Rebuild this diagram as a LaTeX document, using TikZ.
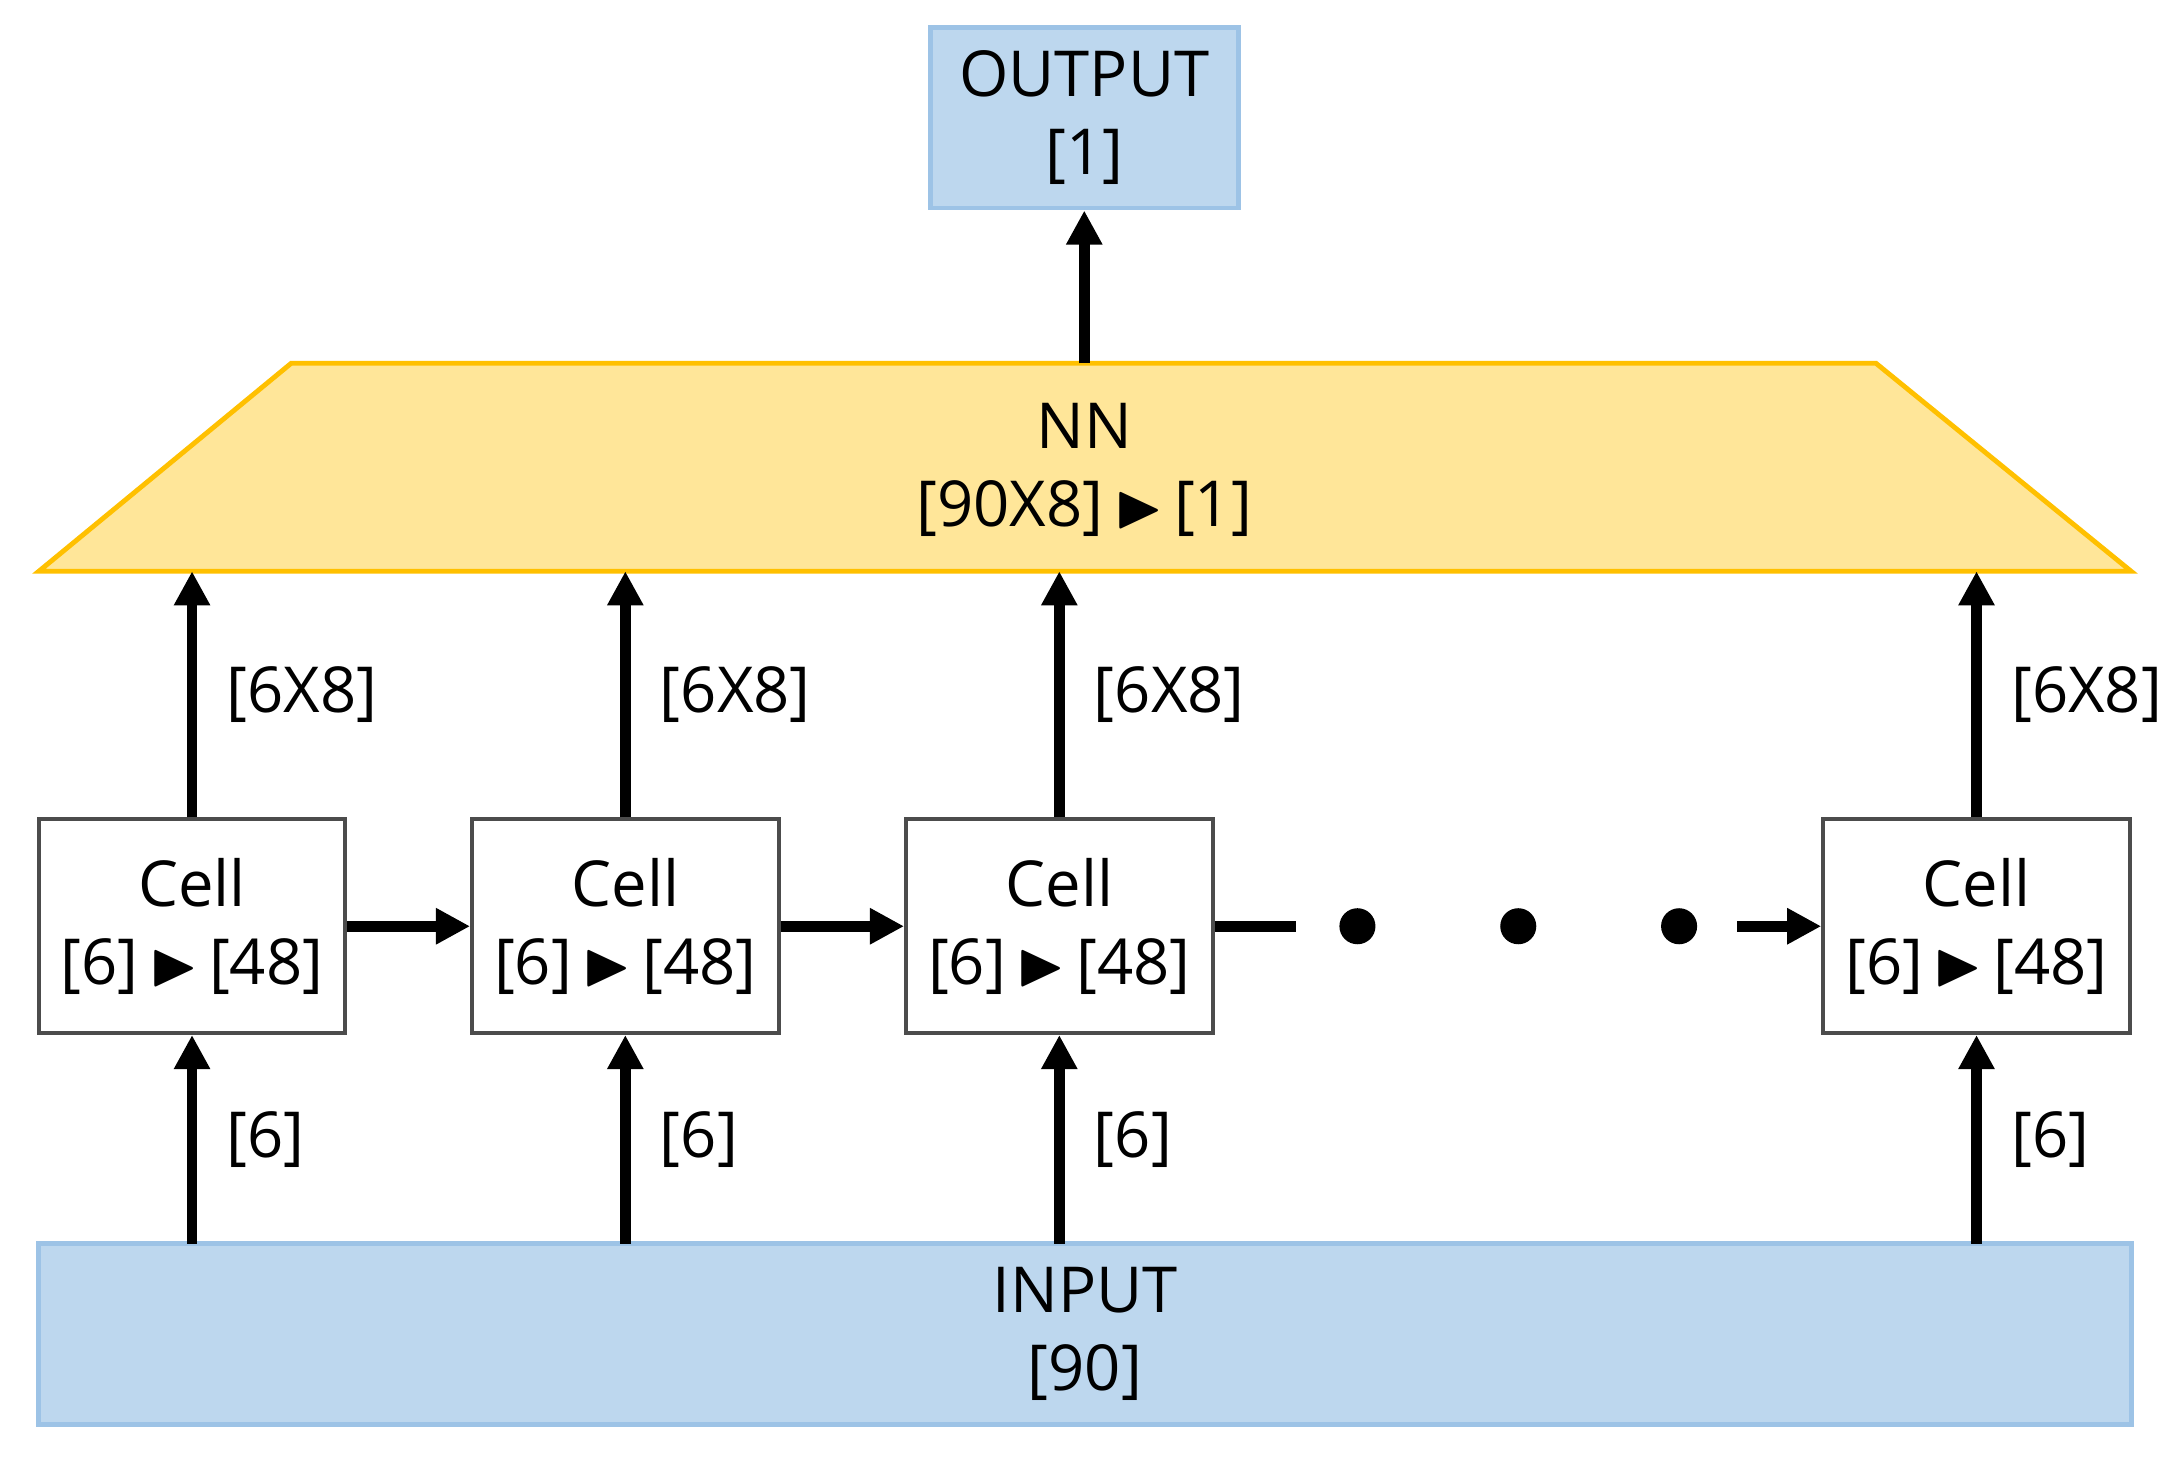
\documentclass[tikz,border=0pt]{standalone}
\usepackage{amssymb}
\usepackage{fontspec}
\setmainfont{Open Sans}
\usetikzlibrary{arrows.meta}
\definecolor{boxblue}{HTML}{BDD7EE}
\definecolor{lineblue}{HTML}{9DC3E6}
\definecolor{nnfill}{HTML}{FFE699}
\definecolor{nnline}{HTML}{FFC000}
\newcommand{\tri}{\,$\blacktriangleright$\,}
\begin{document}
\begin{tikzpicture}[x=0.01cm,y=-0.01cm,
    font=\fontsize{13}{16}\selectfont,
    io/.style={draw=lineblue,fill=boxblue,line width=1pt,align=center,inner sep=0},
    cell/.style={draw=black!70,fill=white,line width=0.8pt,minimum width=2.21cm,minimum height=1.54cm,align=center,inner sep=0},
    flow/.style={line width=2.2pt,-{Triangle[length=7pt,width=7pt]}},
    lbl/.style={right,inner sep=6pt}]
    \useasboundingbox (0,0) rectangle (1560,1056);
    % boxes
    \node[io,minimum width=2.22cm,minimum height=1.30cm] (out) at (782,85) {OUTPUT\\{[1]}};
    \node[io,minimum width=15.09cm,minimum height=1.30cm] (in) at (782.5,962) {INPUT\\{[90]}};
    \draw[draw=nnline,fill=nnfill,line width=1pt] (210,262) -- (1353,262) -- (1537,412) -- (28,412) -- cycle;
    \node[align=center] (nn) at (782,339) {NN\\{[90X8]\tri[1]}};
    \coordinate (nntop) at (782,262);
    % cells
    \foreach \i/\x in {1/138.5,2/451,3/764,4/1425.5} {
        \node[cell] (c\i) at (\x,668) {Cell\\{[6]\tri[48]}};
        \coordinate (nn\i) at (\x,412);
        \coordinate (in\i) at (\x,897);
        \draw[flow] (in\i) -- node[lbl] {[6]} (c\i);
        \draw[flow] (c\i) -- node[lbl] {[6X8]} (nn\i);
    }
    \draw[flow] (nntop) -- (out);
    \draw[flow] (c1) -- (c2);
    \draw[flow] (c2) -- (c3);
    \coordinate (gapA) at (935,668);
    \coordinate (gapB) at (1253,668);
    \draw[line width=2.2pt] (c3) -- (gapA);
    \draw[flow] (gapB) -- (c4);
    \foreach \x in {979,1095,1211} \fill (\x,668) circle (13);
\end{tikzpicture}
\end{document}
